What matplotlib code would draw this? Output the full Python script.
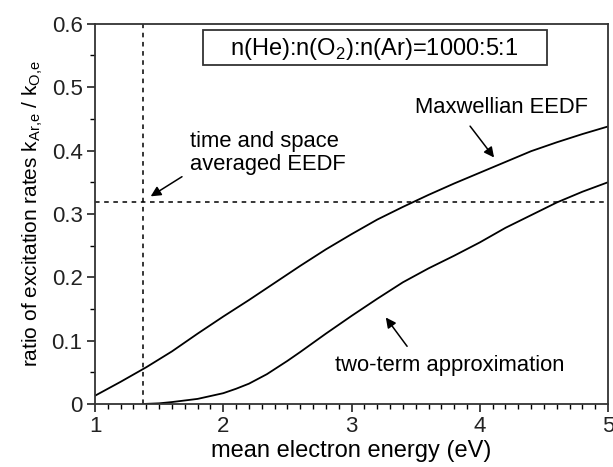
import matplotlib
matplotlib.use('Agg')
import matplotlib.pyplot as plt
from matplotlib.patches import Rectangle
from matplotlib.ticker import MultipleLocator

plt.rcParams['font.family'] = ['Liberation Sans', 'DejaVu Sans']

# Maxwellian EEDF curve
maxw_energy = [1.0, 1.2, 1.4, 1.6, 1.8, 2.0, 2.2, 2.4, 2.6, 2.8, 3.0, 3.2,
               3.4, 3.6, 3.8, 4.0, 4.2, 4.4, 4.6, 4.8, 5.0]
maxw_ratio = [0.013, 0.035, 0.058, 0.083, 0.111, 0.138, 0.164, 0.191, 0.218,
              0.244, 0.268, 0.291, 0.311, 0.330, 0.348, 0.365, 0.382, 0.399,
              0.413, 0.426, 0.438]

# two-term approximation curve
tt_energy = [1.38, 1.5, 1.6, 1.8, 2.0, 2.1, 2.2, 2.34, 2.5, 2.6, 2.8, 3.0,
             3.2, 3.4, 3.6, 3.8, 4.0, 4.2, 4.4, 4.6, 4.8, 5.0]
tt_ratio = [0.0, 0.001, 0.003, 0.008, 0.017, 0.024, 0.032, 0.047, 0.068,
            0.082, 0.111, 0.139, 0.166, 0.192, 0.214, 0.234, 0.255, 0.278,
            0.298, 0.318, 0.335, 0.350]

# time and space averaged EEDF
avg_energy = 1.377
avg_ratio = 0.318

fig = plt.figure(figsize=(6.13, 4.67), dpi=100)
ax = fig.add_axes([0.155, 0.135, 0.837, 0.814])

ax.plot(maxw_energy, maxw_ratio, color='black', linewidth=1.3)
ax.plot(tt_energy, tt_ratio, color='black', linewidth=1.3)
ax.axvline(avg_energy, color='black', linestyle=(0, (3, 3)), linewidth=1.1)
ax.axhline(avg_ratio, color='black', linestyle=(0, (3, 3)), linewidth=1.1)

ax.set_xlim(1, 5)
ax.set_ylim(0, 0.6)
ax.xaxis.set_major_locator(MultipleLocator(1))
ax.xaxis.set_minor_locator(MultipleLocator(0.1))
ax.yaxis.set_minor_locator(MultipleLocator(0.05))
ax.set_yticks([0, 0.1, 0.2, 0.3, 0.4, 0.5, 0.6])
ax.set_yticklabels(['0', '0.1', '0.2', '0.3', '0.4', '0.5', '0.6'])
ax.tick_params(which='major', direction='out', length=6, width=1.2,
               labelsize=16, colors='#222222', pad=3)
ax.tick_params(which='minor', direction='out', length=3.5, width=1.0)
for s in ax.spines.values():
    s.set_linewidth(1.3)
    s.set_color('#333333')

ax.set_xlabel('mean electron energy (eV)', fontsize=17, labelpad=2)
ax.set_ylabel('ratio of excitation rates k$_{\\mathregular{Ar{,}e}}$ / k$_{\\mathregular{O{,}e}}$',
              fontsize=15, labelpad=5)

# gas mixture box
ax.add_patch(Rectangle((1.842, 0.5348), 2.682, 0.0552, facecolor='white',
                       edgecolor='#333333', linewidth=1.3, zorder=3))
ax.text(3.179, 0.561, 'n(He):n(O$_{\\mathregular{2}}$):n(Ar)=1000:5:1',
        fontsize=17, ha='center', va='center', zorder=4)

arrow = dict(arrowstyle='-|>', color='black', lw=1.1,
             shrinkA=0, shrinkB=0, mutation_scale=15)

ax.text(4.166, 0.4685, 'Maxwellian EEDF', fontsize=15.8,
        ha='center', va='center')
ax.annotate('', xy=(4.111, 0.389), xytext=(3.924, 0.4385), arrowprops=arrow)

ax.text(1.741, 0.396, 'time and space\naveraged EEDF', fontsize=15.8,
        ha='left', va='center', linespacing=1.15)
ax.annotate('', xy=(1.434, 0.3277), xytext=(1.678, 0.3587), arrowprops=arrow)

ax.text(3.768, 0.061, 'two-term approximation', fontsize=15.8,
        ha='center', va='center')
ax.annotate('', xy=(3.267, 0.1365), xytext=(3.433, 0.091), arrowprops=arrow)

fig.savefig('out.png', dpi=100)
